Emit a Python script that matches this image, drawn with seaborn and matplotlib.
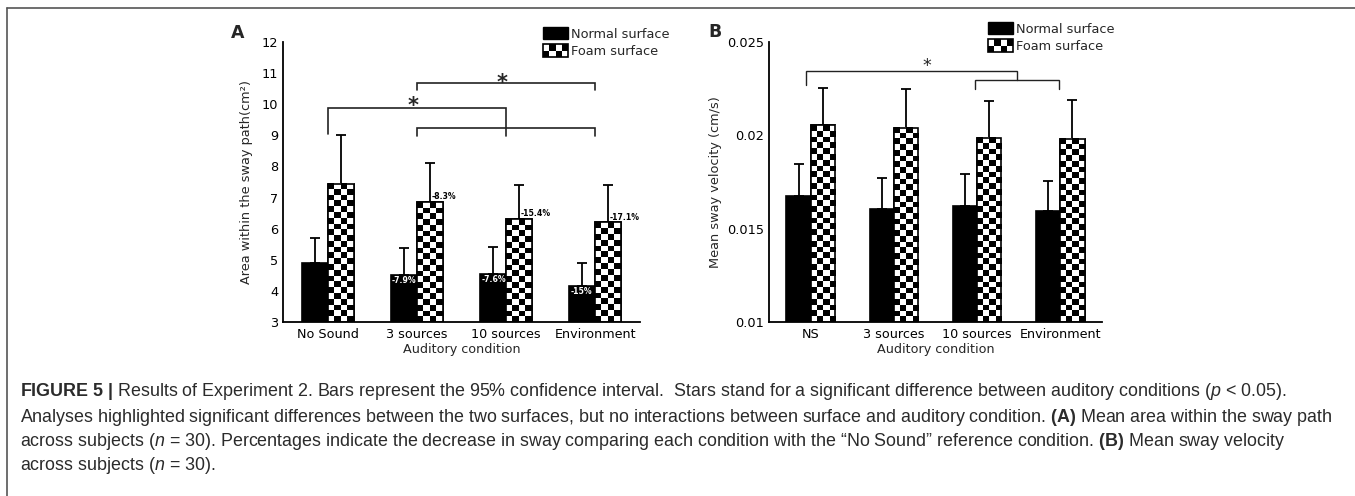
"""
Figure 5 - sway area / sway velocity by auditory condition and surface
"""

import numpy as np
import pandas as pd
import matplotlib
matplotlib.use("Agg")
import matplotlib.pyplot as plt
import seaborn as sns
from matplotlib.patches import Rectangle
from matplotlib.lines import Line2D
from matplotlib.legend_handler import HandlerBase

# Data
conditions_a = ["No Sound", "3 sources", "10 sources", "Environment"]
conditions_b = ["NS", "3 sources", "10 sources", "Environment"]
surfaces = ["Normal surface", "Foam surface"]

area_normal = [4.9, 4.51, 4.54, 4.17]
area_foam = [7.45, 6.85, 6.3, 6.2]
area_normal_ci = [5.7, 5.38, 5.4, 4.9]   # upper end of 95% CI
area_foam_ci = [9.0, 8.1, 7.4, 7.4]
area_pct_normal = ["", "-7.9%", "-7.6%", "-15%"]
area_pct_foam = ["", "-8.3%", "-15.4%", "-17.1%"]
area_ticks = [3, 4, 5, 6, 7, 8, 9, 10, 11, 12]

vel_normal = [0.01673, 0.01607, 0.01621, 0.01595]
vel_foam = [0.02054, 0.02041, 0.01988, 0.01982]
vel_normal_ci = [0.01848, 0.01773, 0.01791, 0.01754]
vel_foam_ci = [0.02255, 0.0225, 0.02182, 0.02188]
vel_ticks = [0.01, 0.015, 0.02, 0.025]
vel_tick_labels = ["0.01", "0.015", "0.02", "0.025"]

caption_lines = [
    r"$\mathbf{FIGURE\ 5\ |}$ Results of Experiment 2. Bars represent the 95% confidence interval.  "
    r"Stars stand for a significant difference between auditory conditions ($\mathit{p}$ < 0.05).",
    r"Analyses highlighted significant differences between the two surfaces, but no interactions between "
    r"surface and auditory condition. $\mathbf{(A)}$ Mean area within the sway path",
    r"across subjects ($\mathit{n}$ = 30). Percentages indicate the decrease in sway comparing each condition "
    r"with the “No Sound” reference condition. $\mathbf{(B)}$ Mean sway velocity",
    r"across subjects ($\mathit{n}$ = 30).",
]

sns.set_style("white")
plt.rcParams["font.family"] = ["DejaVu Sans"]
plt.rcParams["mathtext.fontset"] = "custom"
plt.rcParams["mathtext.rm"] = "Liberation Sans"
plt.rcParams["mathtext.it"] = "Liberation Sans:italic"
plt.rcParams["mathtext.bf"] = "Liberation Sans:bold"

W, H = 1355, 496
CELL = 5.8  # checker cell size in pixels


class CheckerHandler(HandlerBase):
    def create_artists(self, legend, orig_handle, xdescent, ydescent,
                       width, height, fontsize, trans):
        x0, y0 = -xdescent, -ydescent
        arts = [Rectangle((x0, y0), width, height, fc="white", ec="none", transform=trans)]
        ncols, nrows = 4, 2
        cw, ch = width / ncols, height / nrows
        for r in range(nrows):
            for c in range(ncols):
                if (r + c) % 2 == 0:
                    arts.append(Rectangle((x0 + c * cw, y0 + r * ch), cw, ch,
                                          fc="black", ec="none", transform=trans))
        arts.append(Rectangle((x0, y0), width, height, fill=False, ec="black",
                              lw=1.2, transform=trans))
        return arts


def draw_panel(ax, conditions, normal, foam, normal_ci, foam_ci, ylim):
    df = pd.DataFrame({
        "condition": conditions * 2,
        "surface": [surfaces[0]] * len(conditions) + [surfaces[1]] * len(conditions),
        "value": normal + foam,
    })
    sns.barplot(data=df, x="condition", y="value", hue="surface",
                order=conditions, hue_order=surfaces,
                palette=["black", "white"], saturation=1,
                edgecolor="black", linewidth=1.2, width=0.58, gap=0,
                errorbar=None, legend=False, ax=ax)
    ax.set_ylim(*ylim)
    ax.set_xlim(-0.5, len(conditions) - 0.5)

    # error bars, upward only
    for cont, ci in zip(ax.containers, [normal_ci, foam_ci]):
        xs = [b.get_x() + b.get_width() / 2 for b in cont]
        tops = [b.get_height() for b in cont]
        up = [c - t for c, t in zip(ci, tops)]
        ax.errorbar(xs, tops, yerr=[np.zeros(len(xs)), up], fmt="none",
                    ecolor="black", elinewidth=1.3, capsize=3.5, capthick=1.3, zorder=1)

    # checkerboard fill for foam bars
    ybot = ylim[0]
    for bar in ax.containers[1]:
        x0, w, top = bar.get_x(), bar.get_width(), bar.get_height()
        p0 = ax.transData.transform((x0, ybot))
        p1 = ax.transData.transform((x0 + w, top))
        ncols = max(1, int(round((p1[0] - p0[0]) / CELL)))
        nrows = max(1, int(round((p1[1] - p0[1]) / CELL)))
        arr = np.add.outer(np.arange(nrows), np.arange(ncols)) % 2
        ax.imshow(arr, extent=(x0, x0 + w, ybot, top), origin="upper", cmap="gray",
                  vmin=0, vmax=1, interpolation="nearest", aspect="auto",
                  zorder=bar.get_zorder() + 0.1)
        ax.add_patch(Rectangle((x0, ybot), w, top - ybot, fill=False, ec="black",
                               lw=1.2, zorder=bar.get_zorder() + 0.2))
    ax.set_ylim(*ylim)
    ax.set_xlim(-0.5, len(conditions) - 0.5)

    sns.despine(ax=ax)
    for s in ["left", "bottom"]:
        ax.spines[s].set_linewidth(1.3)
        ax.spines[s].set_color("black")
    ax.tick_params(axis="y", length=2, width=1, pad=1.5, labelsize=9.3, colors="black")
    ax.tick_params(axis="x", length=0, pad=4.5, labelsize=9.2, colors="black")
    ax.set_xlabel("Auditory condition", fontsize=9.2, labelpad=1.5)

    # legend handles
    h_normal = Rectangle((0, 0), 1, 1, fc="black", ec="black")
    h_foam = Rectangle((0, 0), 1, 1, fc="white", ec="black")
    return h_normal, h_foam


def bracket(ax, x1, x2, y, y1_end, y2_end, lw=1.2):
    ax.plot([x1, x1, x2, x2], [y1_end, y, y, y2_end], color="#222222", lw=lw,
            solid_joinstyle="miter", zorder=3, clip_on=False)


fig = plt.figure(figsize=(W / 100, H / 100), dpi=100)

# Panel A
ax_a = fig.add_axes([283 / W, 1 - 322 / H, (640 - 283) / W, (322 - 42) / H])
hn, hf = draw_panel(ax_a, conditions_a, area_normal, area_foam,
                    area_normal_ci, area_foam_ci, (3, 12))
ax_a.set_yticks(area_ticks)
ax_a.set_yticklabels([str(t) for t in area_ticks])
ax_a.set_ylabel("Area within the sway path(cm²)", fontsize=9.3)
ax_a.yaxis.set_label_coords(-0.084, 0.5)

for bar, txt in zip(ax_a.containers[0], area_pct_normal):
    if txt:
        ax_a.text(bar.get_x() + 0.01, bar.get_height() - 0.04, txt, color="white",
                  fontsize=5.6, fontweight="bold", ha="left", va="top", zorder=5)
for bar, txt in zip(ax_a.containers[1], area_pct_foam):
    if txt:
        ax_a.text(bar.get_x() + bar.get_width() / 2 + 0.02, bar.get_height() + 0.03, txt,
                  color="black", fontsize=5.6, fontweight="bold", ha="left", va="bottom", zorder=5)

bracket(ax_a, 1, 3, 10.68, 10.45, 10.45)
bracket(ax_a, 0, 2, 9.88, 9.05, 8.98)
bracket(ax_a, 1, 3, 9.23, 8.98, 8.98)
ax_a.text(1.95, 10.48, "*", fontsize=15, fontweight="bold", ha="center", va="baseline")
ax_a.text(0.96, 9.74, "*", fontsize=15, fontweight="bold", ha="center", va="baseline")

ax_a.legend([hn, hf], surfaces, handler_map={hf: CheckerHandler()},
            loc="upper left", bbox_to_anchor=(543 / W, 1 - 27 / H),
            bbox_transform=fig.transFigure, frameon=False, fontsize=9.3,
            borderpad=0, borderaxespad=0, handlelength=1.95, handleheight=1.1,
            handletextpad=0.2, labelspacing=0.3)

# Panel B
ax_b = fig.add_axes([769 / W, 1 - 322 / H, (1102 - 769) / W, (322 - 42) / H])
hn, hf = draw_panel(ax_b, conditions_b, vel_normal, vel_foam,
                    vel_normal_ci, vel_foam_ci, (0.01, 0.025))
ax_b.set_yticks(vel_ticks)
ax_b.set_yticklabels(vel_tick_labels)
ax_b.set_ylabel("Mean sway velocity (cm/s)", fontsize=9.3)
ax_b.yaxis.set_label_coords(-0.141, 0.5)

bracket(ax_b, -0.06, 2.48, 0.02345, 0.02268, 0.02295, lw=1.0)
bracket(ax_b, 1.98, 2.98, 0.02295, 0.0225, 0.0225, lw=1.0)
ax_b.text(1.40, 0.02345, "*", fontsize=12.5, ha="center", va="baseline")

ax_b.legend([hn, hf], surfaces, handler_map={hf: CheckerHandler()},
            loc="upper left", bbox_to_anchor=(988 / W, 1 - 22 / H),
            bbox_transform=fig.transFigure, frameon=False, fontsize=9.3,
            borderpad=0, borderaxespad=0, handlelength=1.95, handleheight=1.1,
            handletextpad=0.2, labelspacing=0.3)

# panel letters
fig.text(238 / W, 1 - 33 / H, "A", fontsize=12.5, fontweight="bold", ha="center", va="center")
fig.text(715 / W, 1 - 32 / H, "B", fontsize=12.5, fontweight="bold", ha="center", va="center")

# page frame
fig.add_artist(Line2D([7.5 / W, 1], [1 - 8 / H, 1 - 8 / H], transform=fig.transFigure,
                      color="#555555", lw=1.2))
fig.add_artist(Line2D([7.5 / W, 7.5 / W], [0, 1 - 8 / H], transform=fig.transFigure,
                      color="#555555", lw=1.2))

# caption
cap_y = [392, 417, 441, 466]
for line, y in zip(caption_lines, cap_y):
    fig.text(20 / W, 1 - y / H, line, fontsize=12.9, family="Liberation Sans",
             color="#2b2b2b", ha="left", va="center")

plt.savefig("out.png", dpi=100)
